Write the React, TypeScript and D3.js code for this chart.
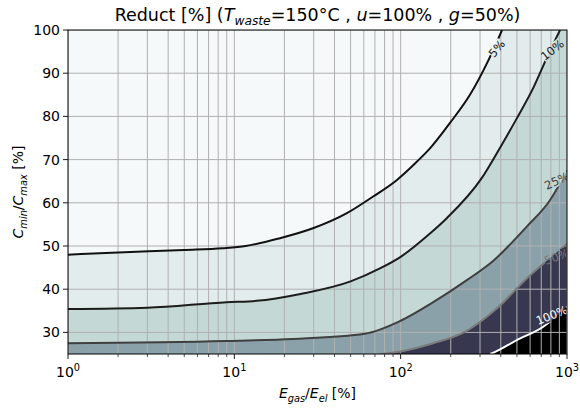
import { useEffect, useRef } from 'react';
import * as d3 from 'd3';

const W = 580;
const H = 408;
const margin = { top: 30, right: 13, bottom: 54, left: 68 };

const xDomain = [1, 1000];
const yDomain = [25, 100];
const yTicks = [30, 40, 50, 60, 70, 80, 90, 100];
const xTicks = [1, 10, 100, 1000];
const xTickExp = ['0', '1', '2', '3'];

// contour levels (Reduct in %)
const levelLabels = ['5%', '10%', '25%', '50%', '100%'];

// contour lines as [E_gas/E_el, C_min/C_max]
const line5 = [
  [1, 48.0], [2, 48.5], [5, 49.1], [8.5, 49.5], [11.7, 50.0], [18.8, 51.8],
  [29.7, 54.1], [47.5, 57.6], [68, 61.4], [95, 65.3], [125, 69.5], [150, 72.6],
  [198, 78.5], [261, 85.0], [335, 92.8], [407, 100],
];
const line10 = [
  [1, 35.4], [3, 35.7], [9, 37.0], [13.6, 37.3], [25, 38.9], [50, 41.8],
  [75, 44.8], [100, 47.5], [150, 52.9], [190, 56.5], [307, 65.7], [395, 72.7],
  [500, 79.6], [627, 86.6], [755, 93.5], [908, 100],
];
const line25 = [
  [1, 27.5], [9, 28.0], [22.6, 28.5], [61, 29.7], [100, 32.7], [157, 37.0],
  [250, 42.1], [361, 46.6], [573, 54.5], [790, 60.6], [1000, 67.5],
];
const line50 = [
  [75, 25], [100, 25.6], [157, 27.5], [240, 30.0], [375, 35.4], [573, 42.5],
  [790, 47.2], [1000, 50.5],
];
const line100 = [
  [345, 25], [361, 25.3], [499, 28.2], [720, 31.3], [1000, 36.0],
];
const contourLines = [line5, line10, line25, line50, line100];

// inline label anchors (data coords) and angles
const labelAt = [[378, 95.7], [816, 95.4], [867, 65.1], [867, 47.5], [809, 34.0]];
const labelAngle = [-50, -38, -25, -20, -22];

const fillColors = ['#f5f9f9', '#e3ecec', '#c4d9d6', '#8ba1aa', '#37374f', '#000000'];
const lineColors = ['#111111', '#1c1c1c', '#3f3f3f', '#7b7b7b', '#ffffff'];

const FONT = 'DejaVu Sans, sans-serif';

type Part = { t: string; it?: boolean; sub?: boolean; sup?: boolean };

function addRich(text: any, parts: Part[], fs: number) {
  let shift = 0;
  parts.forEach(p => {
    const target = p.sub ? fs * 0.25 : p.sup ? -fs * 0.42 : 0;
    const ts = text.append('tspan').attr('dy', target - shift).text(p.t);
    shift = target;
    if (p.it) ts.attr('font-style', 'italic');
    if (p.sub || p.sup) ts.attr('font-size', fs * 0.7);
  });
}

export default function App() {
  const svgRef = useRef<SVGSVGElement>(null);

  useEffect(() => {
    document.body.style.margin = '0';
    const width = W - margin.left - margin.right;
    const height = H - margin.top - margin.bottom;

    d3.select(svgRef.current).selectAll('*').remove();
    const root = d3.select(svgRef.current).attr('width', W).attr('height', H);
    const defs = root.append('defs');
    defs.append('clipPath').attr('id', 'plot-clip')
      .append('rect').attr('width', width).attr('height', height);

    const svg = root.append('g')
      .attr('transform', `translate(${margin.left},${margin.top})`)
      .style('font-family', FONT);

    const x = d3.scaleLog().domain(xDomain).range([0, width]);
    const y = d3.scaleLinear().domain(yDomain).range([height, 0]);

    const line = d3.line<number[]>()
      .x(d => x(d[0]))
      .y(d => y(d[1]))
      .curve(d3.curveMonotoneX);

    const plot = svg.append('g').attr('clip-path', 'url(#plot-clip)');

    // filled bands
    plot.append('rect').attr('width', width).attr('height', height).attr('fill', fillColors[0]);
    contourLines.forEach((pts, i) => {
      const first = pts[0];
      const last = pts[pts.length - 1];
      let d = line(pts) as string;
      if (last[1] >= yDomain[1]) d += `L${x(xDomain[1])},${y(yDomain[1])}`;
      d += `L${x(xDomain[1])},${y(yDomain[0])}`;
      d += `L${x(first[0])},${y(yDomain[0])}Z`;
      plot.append('path').attr('d', d).attr('fill', fillColors[i + 1]);
    });

    // grid
    plot.append('g').selectAll('line').data(x.ticks()).join('line')
      .attr('x1', d => x(d)).attr('x2', d => x(d))
      .attr('y1', 0).attr('y2', height)
      .attr('stroke', '#b0b0b0').attr('stroke-width', 1);
    plot.append('g').selectAll('line').data(yTicks).join('line')
      .attr('x1', 0).attr('x2', width)
      .attr('y1', d => y(d)).attr('y2', d => y(d))
      .attr('stroke', '#b0b0b0').attr('stroke-width', 1);

    // contour lines with gaps for inline labels
    const labelW = (s: string) => s.length * 7.4 + 3;
    contourLines.forEach((pts, i) => {
      const lx = x(labelAt[i][0]);
      const ly = y(labelAt[i][1]);
      const m = defs.append('mask').attr('id', `gap-${i}`)
        .attr('maskUnits', 'userSpaceOnUse')
        .attr('x', -margin.left).attr('y', -margin.top).attr('width', W).attr('height', H);
      m.append('rect').attr('x', -margin.left).attr('y', -margin.top)
        .attr('width', W).attr('height', H).attr('fill', 'white');
      const lw = labelW(levelLabels[i]);
      m.append('rect')
        .attr('x', -lw / 2).attr('y', -6).attr('width', lw).attr('height', 12)
        .attr('transform', `translate(${lx},${ly}) rotate(${labelAngle[i]})`)
        .attr('fill', 'black');
      plot.append('path')
        .attr('d', line(pts) as string)
        .attr('fill', 'none')
        .attr('stroke', lineColors[i])
        .attr('stroke-width', 2)
        .attr('mask', `url(#gap-${i})`);
      plot.append('text')
        .attr('transform', `translate(${lx},${ly}) rotate(${labelAngle[i]})`)
        .attr('text-anchor', 'middle')
        .attr('dy', '0.36em')
        .attr('font-size', 11.5)
        .attr('fill', i === 4 ? '#ffffff' : lineColors[i])
        .text(levelLabels[i]);
    });

    // frame
    svg.append('rect').attr('width', width).attr('height', height)
      .attr('fill', 'none').attr('stroke', '#000').attr('stroke-width', 1);

    // x ticks
    const xAxis = svg.append('g').attr('transform', `translate(0,${height})`);
    xAxis.selectAll('line.minor').data(x.ticks().filter(d => !xTicks.includes(d))).join('line')
      .attr('class', 'minor')
      .attr('x1', d => x(d)).attr('x2', d => x(d))
      .attr('y1', 0).attr('y2', 3).attr('stroke', '#000').attr('stroke-width', 0.7);
    xAxis.selectAll('line.major').data(xTicks).join('line')
      .attr('class', 'major')
      .attr('x1', d => x(d)).attr('x2', d => x(d))
      .attr('y1', 0).attr('y2', 5).attr('stroke', '#000').attr('stroke-width', 0.9);
    xTicks.forEach((t, i) => {
      const tx = xAxis.append('text')
        .attr('x', x(t)).attr('y', 23)
        .attr('text-anchor', 'middle')
        .attr('font-size', 14).attr('fill', '#000');
      addRich(tx, [{ t: '10' }, { t: xTickExp[i], sup: true }], 14);
    });

    // y ticks
    const yAxis = svg.append('g');
    yAxis.selectAll('line').data(yTicks).join('line')
      .attr('x1', -5).attr('x2', 0)
      .attr('y1', d => y(d)).attr('y2', d => y(d))
      .attr('stroke', '#000').attr('stroke-width', 0.9);
    yAxis.selectAll('text').data(yTicks).join('text')
      .attr('x', -8).attr('y', d => y(d))
      .attr('dy', '0.36em')
      .attr('text-anchor', 'end')
      .attr('font-size', 14)
      .text(d => d);

    // axis labels
    const xl = svg.append('text')
      .attr('x', width / 2).attr('y', height + 44)
      .attr('text-anchor', 'middle').attr('font-size', 14);
    addRich(xl, [
      { t: 'E', it: true }, { t: 'gas', it: true, sub: true }, { t: '/' },
      { t: 'E', it: true }, { t: 'el', it: true, sub: true }, { t: ' [%]' },
    ], 14);

    const yl = svg.append('text')
      .attr('transform', `translate(${-45},${height / 2}) rotate(-90)`)
      .attr('text-anchor', 'middle').attr('font-size', 14);
    addRich(yl, [
      { t: 'C', it: true }, { t: 'min', it: true, sub: true }, { t: '/' },
      { t: 'C', it: true }, { t: 'max', it: true, sub: true }, { t: ' [%]' },
    ], 14);

    // title
    const title = svg.append('text')
      .attr('x', width / 2).attr('y', -9)
      .attr('text-anchor', 'middle').attr('font-size', 17.5);
    addRich(title, [
      { t: 'Reduct [%] (' }, { t: 'T', it: true }, { t: 'waste', it: true, sub: true },
      { t: '=150°C , ' }, { t: 'u', it: true }, { t: '=100% , ' },
      { t: 'g', it: true }, { t: '=50%)' },
    ], 17.5);
  }, []);

  return (
    <div>
      <svg ref={svgRef}></svg>
    </div>
  );
}
